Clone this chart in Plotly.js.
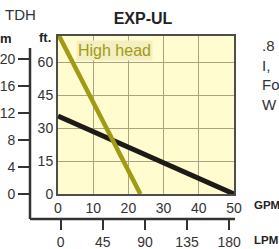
<!DOCTYPE html>
<html><head><meta charset="utf-8">
<script src="https://cdn.plot.ly/plotly-3.0.1.min.js"></script>
<style>html,body{margin:0;padding:0;background:#fff;}#c{width:279px;height:249px;}</style>
</head><body><div id="c"></div>
<script>
// Data
var highHeadGPM = [0, 23.4];
var highHeadFt  = [73, 0];
var lowHeadGPM  = [0, 50];
var lowHeadFt   = [35.5, 0];
var gpmTicks = [0, 10, 20, 30, 40, 50];
var ftTicks  = [0, 15, 30, 45, 60];
var lpmTicks = [0, 45, 90, 135, 180];
var mTicks   = [0, 4, 8, 12, 16, 20];
var seriesLabel = "High head";
var chartTitle = "EXP-UL";

var font = "Liberation Sans, Arial, sans-serif";
var txt = "#333333";

var traces = [
  {x: lowHeadGPM, y: lowHeadFt, mode: "lines", line: {color: "#1d1b17", width: 5}, hoverinfo: "skip", showlegend: false},
  {x: highHeadGPM, y: highHeadFt, mode: "lines", line: {color: "#a29a14", width: 4.5}, hoverinfo: "skip", showlegend: false, name: seriesLabel},
  {x: [], y: [], xaxis: "x2", yaxis: "y2", mode: "lines", hoverinfo: "skip", showlegend: false}
];

var layout = {
  width: 279, height: 249,
  margin: {l: 30, r: 45, t: 36, b: 30, pad: 0},
  paper_bgcolor: "#ffffff",
  plot_bgcolor: "#fffcd0",
  font: {family: font, size: 14, color: txt},
  title: {text: "<b>" + chartTitle + "</b>", font: {family: font, size: 16, color: "#222"},
          xref: "paper", x: 0.554, xanchor: "center", yref: "container", y: 1 - 18/249, yanchor: "middle"},
  xaxis: {domain: [28/204, 1], range: [0, 50], tickvals: gpmTicks, showgrid: true, gridcolor: "#a9a47f", gridwidth: 1,
          zeroline: false, showline: true, mirror: true, linecolor: "#4d4d4d", linewidth: 2, ticks: "",
          tickfont: {family: font, size: 14, color: txt}, fixedrange: true},
  yaxis: {domain: [25/183, 1], range: [0, 72], tickvals: ftTicks, showgrid: true, gridcolor: "#a9a47f", gridwidth: 1,
          zeroline: false, showline: true, mirror: true, linecolor: "#4d4d4d", linewidth: 2, ticks: "",
          tickfont: {family: font, size: 14, color: txt}, fixedrange: true},
  xaxis2: {overlaying: "x", anchor: "free", position: 0, side: "bottom", range: [-2.9, 185.2], tickvals: lpmTicks,
           showgrid: false, zeroline: false, showline: false, ticks: "outside", ticklen: 10, tickwidth: 2, tickcolor: "#333",
           tickfont: {family: font, size: 14, color: txt}, fixedrange: true},
  yaxis2: {overlaying: "y", anchor: "free", position: 0, side: "left", range: [0, 23.4], tickvals: mTicks,
           showgrid: false, zeroline: false, showline: false, ticks: "outside", ticklen: 12, tickwidth: 2, tickcolor: "#333",
           tickfont: {family: font, size: 14, color: txt}, fixedrange: true},
  shapes: [
    {type: "line", xref: "paper", yref: "paper", x0: 0, x1: 0, y0: 0, y1: 171/183, line: {color: "#333", width: 2.5}},
    {type: "line", xref: "paper", yref: "paper", x0: 0, x1: 1.005, y0: 0, y1: 0, line: {color: "#333", width: 2.5}}
  ],
  annotations: [
    {text: "TDH", xref: "paper", yref: "paper", x: -10/204, y: 205/183, xanchor: "center", yanchor: "middle", showarrow: false,
     font: {family: font, size: 15, color: txt}},
    {text: "<b>m</b>", xref: "paper", yref: "paper", x: -24/204, y: 181/183, xanchor: "center", yanchor: "middle", showarrow: false,
     font: {family: font, size: 13, color: "#222"}},
    {text: "<b>ft.</b>", xref: "paper", yref: "paper", x: 15/204, y: 182/183, xanchor: "center", yanchor: "middle", showarrow: false,
     font: {family: font, size: 13, color: "#222"}},
    {text: "<b>GPM</b>", xref: "paper", yref: "paper", x: 222/204, y: 14/183, xanchor: "left", yanchor: "middle", showarrow: false,
     font: {family: font, size: 11.5, color: "#222"}},
    {text: "<b>LPM</b>", xref: "paper", yref: "paper", x: 222/204, y: -21/183, xanchor: "left", yanchor: "middle", showarrow: false,
     font: {family: font, size: 11.5, color: "#222"}},
    {text: ".8<br>I,<br>Fo<br>W", xref: "paper", yref: "paper", x: 230/204, y: 184/183, xanchor: "left", yanchor: "top", align: "left",
     showarrow: false, font: {family: font, size: 15, color: txt}},
    {text: seriesLabel, xref: "x", yref: "y", x: 5.0, y: 65.5, xanchor: "left", yanchor: "middle", showarrow: false,
     bgcolor: "#f4efc2", borderpad: 1, font: {family: font, size: 16, color: "#a29a14"}}
  ]
};

Plotly.newPlot("c", traces, layout, {displayModeBar: false, staticPlot: true});
</script></body></html>
